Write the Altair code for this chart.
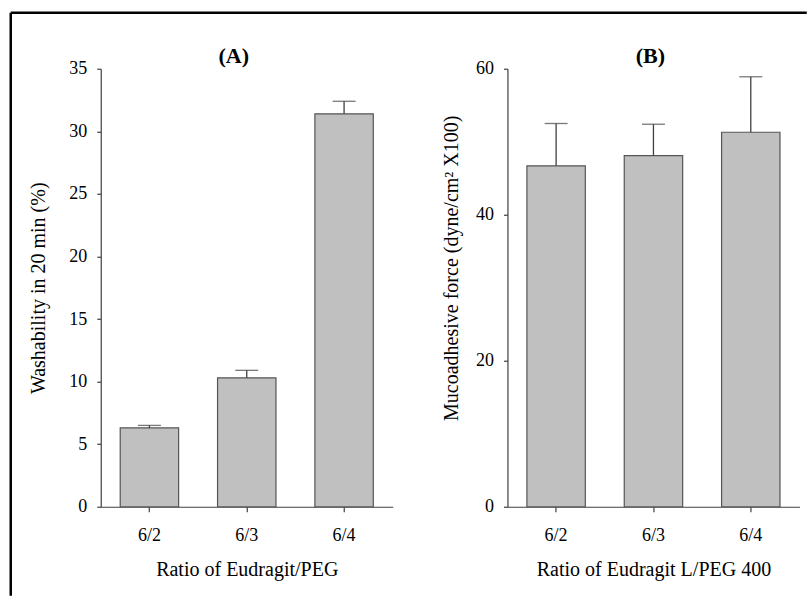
import altair as alt
import pandas as pd

ratios = ["6/2", "6/3", "6/4"]
wash_mean = [6.3, 10.3, 31.4]
wash_sd = [0.2, 0.6, 1.0]
muco_mean = [46.7, 48.1, 51.3]
muco_sd = [5.8, 4.3, 7.6]

FONT = "Liberation Serif"
W, H = 292, 438
AXC = "#404040"


def panel(mean, sd, title, title_dx, xtitle, ytitle, ymax, ystep, ytitle_pad, ytitle_y=None, frame=False):
    df = pd.DataFrame({"ratio": ratios, "mean": mean, "sd": sd})
    base = alt.Chart(df).transform_calculate(upper="datum.mean + datum.sd")
    xenc = alt.X(
        "ratio:N", sort=ratios, title=xtitle,
        scale=alt.Scale(paddingInner=0.4, paddingOuter=0.2),
        axis=alt.Axis(labelAngle=0, tickSize=5, labelPadding=15, titlePadding=15),
    )
    yax = dict(values=list(range(0, ymax + 1, ystep)), grid=False, tickSize=4,
               labelPadding=10, titlePadding=ytitle_pad)
    if ytitle_y is not None:
        yax["titleY"] = ytitle_y
    yenc = alt.Y("mean:Q", title=ytitle, scale=alt.Scale(domain=[0, ymax], nice=False),
                 axis=alt.Axis(**yax))
    bars = base.mark_bar(color="#c0c0c0", stroke="#555555", strokeWidth=1.2).encode(x=xenc, y=yenc)
    whisk = base.mark_rule(color=AXC, strokeWidth=1.3).encode(
        x=alt.X("ratio:N", sort=ratios), y="mean:Q", y2="upper:Q")
    cap = base.mark_tick(color=AXC, size=23, thickness=1.3).encode(
        x=alt.X("ratio:N", sort=ratios), y="upper:Q")
    one = alt.Chart(pd.DataFrame({"k": [0]}))
    ttl = one.mark_text(font=FONT, fontSize=22, fontWeight="bold", color="black",
                        align="center", baseline="bottom").encode(
        x=alt.value(W / 2 + title_dx), y=alt.value(-1), text=alt.value(title))
    layers = [bars, whisk, cap, ttl]
    if frame:
        fv = one.mark_rule(color="black", strokeWidth=2.5).encode(
            x=alt.value(-90), y=alt.value(-56), y2=alt.value(527))
        fh = one.mark_rule(color="black", strokeWidth=2.5).encode(
            y=alt.value(-56), x=alt.value(-90), x2=alt.value(706))
        layers += [fv, fh]
    return alt.layer(*layers).properties(width=W, height=H)


pa = panel(wash_mean, wash_sd, "(A)", -13, "Ratio of Eudragit/PEG",
           "Washability in 20 min (%)", 35, 5, 20, frame=True)
pb = panel(muco_mean, muco_sd, "(B)", -3, "Ratio of Eudragit L/PEG 400",
           "Mucoadhesive force (dyne/cm² X100)", 60, 20, 14, ytitle_y=199)

chart = (
    alt.hconcat(pa, pb, spacing=114.7, bounds="flush")
    .properties(padding={"left": 8.75, "top": 10.75, "right": 0, "bottom": 0},
                background="white")
    .configure_view(stroke=None)
    .configure_axis(
        labelFont=FONT, titleFont=FONT, labelFontSize=18, titleFontSize=20,
        titleFontWeight="normal", labelColor="black", titleColor="black",
        domainColor=AXC, tickColor=AXC, domainWidth=1.2, tickWidth=1.2,
    )
)

chart.save("out.html", embed_options={"renderer": "svg", "actions": False})
